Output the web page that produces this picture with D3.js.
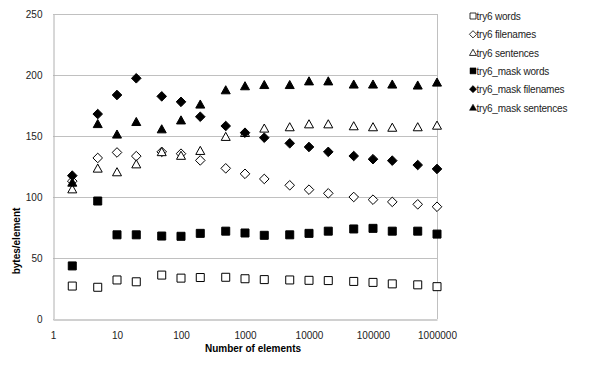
<!DOCTYPE html>
<html>
<head>
<meta charset="utf-8">
<script src="https://cdn.jsdelivr.net/npm/d3@7"></script>
<style>
  body { margin: 0; background: #fff; }
  svg text { font-family: "Liberation Sans", Arial, sans-serif; }
</style>
</head>
<body>
<div id="container"></div>
<script>
const width = 600;
const height = 366;
const margin = { top: 14, right: 163, bottom: 47, left: 53 };

const counts = [2, 5, 10, 20, 50, 100, 200, 500, 1000, 2000, 5000, 10000, 20000, 50000, 100000, 200000, 500000, 1000000];
const xTicks = [1, 10, 100, 1000, 10000, 100000, 1000000];
const yTicks = [0, 50, 100, 150, 200, 250];

const try6Words = [27, 26, 32, 30.5, 36, 33.5, 34, 34.2, 33, 32.3, 32, 31.7, 31.5, 30.8, 30, 28.8, 28, 26.5];
const try6Filenames = [113, 132, 136.5, 133.5, 137, 135.5, 130, 123.5, 119, 114.8, 109.6, 106, 103, 100, 97.8, 96, 94, 92];
const try6Sentences = [106.5, 123.5, 120.5, 127, 137, 134, 138, 149.5, 152.7, 156.3, 157.4, 159.8, 159.8, 158.2, 157.4, 157, 157.4, 158.7];
const maskWords = [43.5, 96.7, 69, 69, 68, 67.8, 70.2, 72, 70.5, 68.6, 69, 70.2, 72, 73.8, 74.3, 72, 72, 69.6];
const maskFilenames = [117.5, 168, 183.6, 197.3, 182.5, 178, 165.8, 158.2, 152.7, 148.6, 144, 141, 137, 133.6, 131, 129.8, 126.2, 123];
const maskSentences = [112, 160, 151.4, 161.7, 155.7, 163, 176, 187.7, 191, 192, 192, 195, 195, 192.4, 192.4, 192.4, 191.6, 194];

const seriesNames = ["try6 words", "try6 filenames", "try6 sentences", "try6_mask words", "try6_mask filenames", "try6_mask sentences"];
const seriesValues = [try6Words, try6Filenames, try6Sentences, maskWords, maskFilenames, maskSentences];

// marker shape and fill for each series, same order as seriesNames
const markerShape = ["square", "diamond", "triangle", "square", "diamond", "triangle"];
const markerFilled = [false, false, false, true, true, true];

const markerPath = (shape, s) => {
  const p = d3.path();
  if (shape === "square") {
    p.rect(-s / 2, -s / 2, s, s);
  } else if (shape === "diamond") {
    const r = s * 0.6;
    p.moveTo(0, -r); p.lineTo(r, 0); p.lineTo(0, r); p.lineTo(-r, 0); p.closePath();
  } else {
    const h = s * 0.95;
    p.moveTo(0, -h / 2 - 0.5); p.lineTo(s / 2 + 0.5, h / 2); p.lineTo(-s / 2 - 0.5, h / 2); p.closePath();
  }
  return p.toString();
};

const svg = d3.select("#container").append("svg")
  .attr("width", width)
  .attr("height", height);

const x = d3.scaleLog()
  .domain([1, 1000000])
  .range([margin.left, width - margin.right]);

const y = d3.scaleLinear()
  .domain([0, 250])
  .range([height - margin.bottom, margin.top]);

// horizontal grid lines
svg.append("g")
  .selectAll("line")
  .data(yTicks)
  .enter()
  .append("line")
  .attr("x1", x(1))
  .attr("x2", x(1000000))
  .attr("y1", (d) => Math.round(y(d)) + 0.5)
  .attr("y2", (d) => Math.round(y(d)) + 0.5)
  .attr("stroke", "#c0c0c0");

// right border
svg.append("line")
  .attr("x1", Math.round(x(1000000)) + 0.5)
  .attr("x2", Math.round(x(1000000)) + 0.5)
  .attr("y1", y(250))
  .attr("y2", y(0))
  .attr("stroke", "#c0c0c0");

const yAxis = d3.axisLeft(y).tickValues(yTicks).tickSize(0).tickPadding(11);
const gy = svg.append("g")
  .attr("transform", `translate(${Math.round(x(1)) + 0.5}, 0.5)`)
  .call(yAxis);
gy.select(".domain").attr("stroke", "#b0b0b0");
gy.selectAll("text")
  .style("font-size", "10px")
  .attr("fill", "#222");

const xAxis = d3.axisBottom(x).tickValues(xTicks).tickFormat(d3.format("d")).tickSize(0).tickPadding(12);
const gx = svg.append("g")
  .attr("transform", `translate(0, ${Math.round(y(0)) + 0.5})`)
  .call(xAxis);
gx.select(".domain").attr("stroke", "#d0d0d0").attr("stroke-width", 2);
gx.selectAll("text")
  .style("font-size", "10px")
  .attr("fill", "#222");

// markers
seriesValues.forEach((values, i) => {
  svg.append("g")
    .selectAll("path")
    .data(values)
    .enter()
    .append("path")
    .attr("transform", (d, j) => `translate(${x(counts[j])}, ${y(d)})`)
    .attr("d", markerPath(markerShape[i], 8))
    .attr("fill", markerFilled[i] ? "#000" : "#fff")
    .attr("stroke", "#000")
    .attr("stroke-width", 1);
});

// legend
const legend = svg.append("g")
  .selectAll("g")
  .data(seriesNames)
  .enter()
  .append("g")
  .attr("transform", (d, i) => `translate(473, ${16 + i * 18.3})`);

legend.append("path")
  .attr("d", (d, i) => markerPath(markerShape[i], 6))
  .attr("fill", (d, i) => (markerFilled[i] ? "#000" : "#fff"))
  .attr("stroke", "#000")
  .attr("stroke-width", (d, i) => (markerFilled[i] ? 0.5 : 0.8));

legend.append("text")
  .attr("x", 3.5)
  .attr("y", 4)
  .text((d) => d)
  .style("font-size", "10px")
  .style("letter-spacing", "-0.2px")
  .attr("fill", "#222");

// axis titles
svg.append("text")
  .attr("x", 253)
  .attr("y", 352)
  .attr("text-anchor", "middle")
  .style("font-size", "10px")
  .style("font-weight", "bold")
  .text("Number of elements");

svg.append("text")
  .attr("text-anchor", "middle")
  .attr("transform", "translate(20, 241) rotate(-90)")
  .style("font-size", "10px")
  .style("font-weight", "bold")
  .text("bytes/element");
</script>
</body>
</html>
